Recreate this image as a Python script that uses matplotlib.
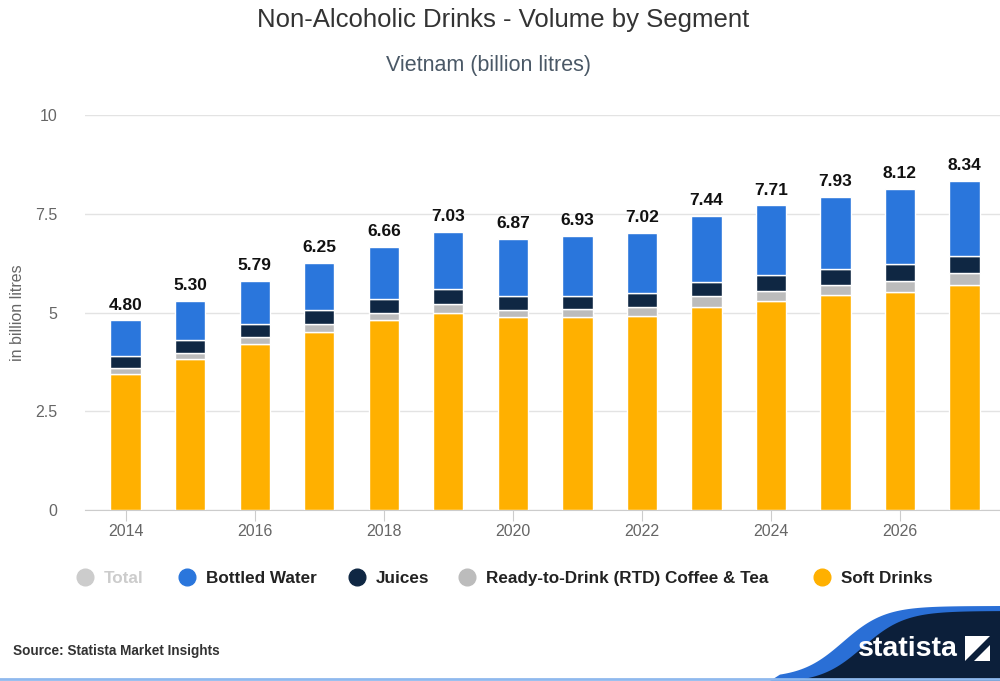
import matplotlib
matplotlib.use("Agg")
import matplotlib.pyplot as plt
from matplotlib.lines import Line2D
from matplotlib.patches import Polygon
import numpy as np

plt.rcParams['font.family'] = ['Liberation Sans', 'DejaVu Sans']

years = [2014, 2015, 2016, 2017, 2018, 2019, 2020, 2021, 2022, 2023, 2024, 2025, 2026, 2027]
soft_drinks = [3.44, 3.83, 4.19, 4.51, 4.81, 5.00, 4.88, 4.88, 4.90, 5.15, 5.30, 5.44, 5.51, 5.70]
rtd_coffee_tea = [0.15, 0.15, 0.18, 0.19, 0.19, 0.22, 0.18, 0.22, 0.24, 0.27, 0.25, 0.26, 0.30, 0.29]
juices = [0.31, 0.32, 0.33, 0.36, 0.35, 0.37, 0.37, 0.32, 0.35, 0.34, 0.40, 0.39, 0.43, 0.44]
bottled_water = [0.90, 1.00, 1.09, 1.19, 1.31, 1.44, 1.44, 1.51, 1.53, 1.68, 1.76, 1.84, 1.88, 1.91]
totals = [4.80, 5.30, 5.79, 6.25, 6.66, 7.03, 6.87, 6.93, 7.02, 7.44, 7.71, 7.93, 8.12, 8.34]
x_tick_years = [2014, 2016, 2018, 2020, 2022, 2024, 2026]
y_ticks = [0, 2.5, 5, 7.5, 10]
y_tick_labels = ["0", "2.5", "5", "7.5", "10"]

series = [
    ("Soft Drinks", soft_drinks, "#ffb000"),
    ("Ready-to-Drink (RTD) Coffee & Tea", rtd_coffee_tea, "#bcbcbc"),
    ("Juices", juices, "#0f2743"),
    ("Bottled Water", bottled_water, "#2a76dc"),
]

fig = plt.figure(figsize=(10, 6.81), dpi=100)
ax = fig.add_axes([0.085, 1 - 510 / 681, 0.915, (510 - 115) / 681])

x = np.array(years)
bottom = np.zeros(len(years))
for name, vals, col in series:
    ax.bar(x, vals, bottom=bottom, width=0.47, color=col, edgecolor="white",
           linewidth=1.0, zorder=3)
    bottom += np.array(vals)

for xi, t in zip(x, totals):
    ax.text(xi, t + 0.2, f"{t:.2f}", ha="center", va="bottom", fontsize=12.5,
            fontweight="bold", color="#111111", zorder=4)

ax.set_ylim(0, 10)
ax.set_xlim(2013.37, 2027.55)
ax.set_yticks(y_ticks)
ax.set_yticklabels(y_tick_labels)
ax.set_xticks(x_tick_years)
ax.set_xticklabels([str(y) for y in x_tick_years])
ax.tick_params(axis="y", length=0, pad=20, labelsize=11.5, labelcolor="#666666")
ax.tick_params(axis="x", length=8, color="#cccccc", pad=2, labelsize=11.5,
               labelcolor="#666666")
ax.grid(axis="y", color="#e3e3e3", linewidth=1, zorder=0)
for s in ["top", "right", "left"]:
    ax.spines[s].set_visible(False)
ax.spines["bottom"].set_color("#cccccc")
ax.set_ylabel("in billion litres", fontsize=11.5, color="#666666")
ax.yaxis.set_label_coords(-0.066, 0.5)

fig.text(0.503, 1 - 20 / 681, "Non-Alcoholic Drinks - Volume by Segment",
         ha="center", va="center", fontsize=18.5, color="#333333")
fig.text(0.489, 1 - 66 / 681, "Vietnam (billion litres)", ha="center",
         va="center", fontsize=15.5, color="#4a5866")

# legend row
legend_y = 1 - 577 / 681
legend_items = [
    ("Total", "#cccccc", "#cccccc", 0.085),
    ("Bottled Water", "#2a76dc", "#222222", 0.187),
    ("Juices", "#0f2743", "#222222", 0.357),
    ("Ready-to-Drink (RTD) Coffee & Tea", "#bcbcbc", "#222222", 0.467),
    ("Soft Drinks", "#ffb000", "#222222", 0.822),
]
for label, mcol, tcol, xpos in legend_items:
    fig.add_artist(Line2D([xpos], [legend_y], marker="o", markersize=12,
                          color=mcol, linestyle="none",
                          transform=fig.transFigure))
    fig.text(xpos + 0.019, legend_y, label, ha="left", va="center_baseline",
             fontsize=12.3, fontweight="bold", color=tcol)

fig.text(0.013, 1 - 651 / 681, "Source: Statista Market Insights", ha="left",
         va="center", fontsize=9.8, fontweight="bold", color="#333333")

# logo band in the lower right corner
def to_fig(px, py):
    return (px / 1000, 1 - py / 681)

ts = np.linspace(0, 1, 80)
curve_x = 790 + 210 * ts
curve_y = 683 - 72 * (1 / (1 + np.exp(-10 * (ts - 0.3))))
blue_pts = [to_fig(px - 10, py - 5) for px, py in zip(curve_x, curve_y)]
blue_pts += [to_fig(1000, 606), to_fig(1000, 681), to_fig(770, 681)]
fig.add_artist(Polygon(blue_pts, closed=True, facecolor="#2a6fd6",
                       edgecolor="none", transform=fig.transFigure))
navy_pts = [to_fig(px + 10, py) for px, py in zip(curve_x, curve_y)]
navy_pts += [to_fig(1000, 681), to_fig(800, 681)]
fig.add_artist(Polygon(navy_pts, closed=True, facecolor="#0c1f3a",
                       edgecolor="none", transform=fig.transFigure))
fig.text(0.908, 1 - 649 / 681, "statista", ha="center", va="center",
         fontsize=20.5, fontweight="bold", color="white")
icon = Polygon([to_fig(965, 636), to_fig(990, 636), to_fig(990, 661),
                to_fig(965, 661)], closed=True, facecolor="white",
               edgecolor="none", transform=fig.transFigure)
fig.add_artist(icon)
fig.add_artist(Polygon([to_fig(965, 661), to_fig(990, 636), to_fig(990, 645),
                        to_fig(974, 661)], closed=True, facecolor="#0c1f3a",
                       edgecolor="none", transform=fig.transFigure))
fig.add_artist(Line2D([0, 1], [1 - 679 / 681] * 2, color="#8fb9ee",
                      linewidth=2, transform=fig.transFigure))

fig.savefig("out.png", dpi=100, facecolor="white")
